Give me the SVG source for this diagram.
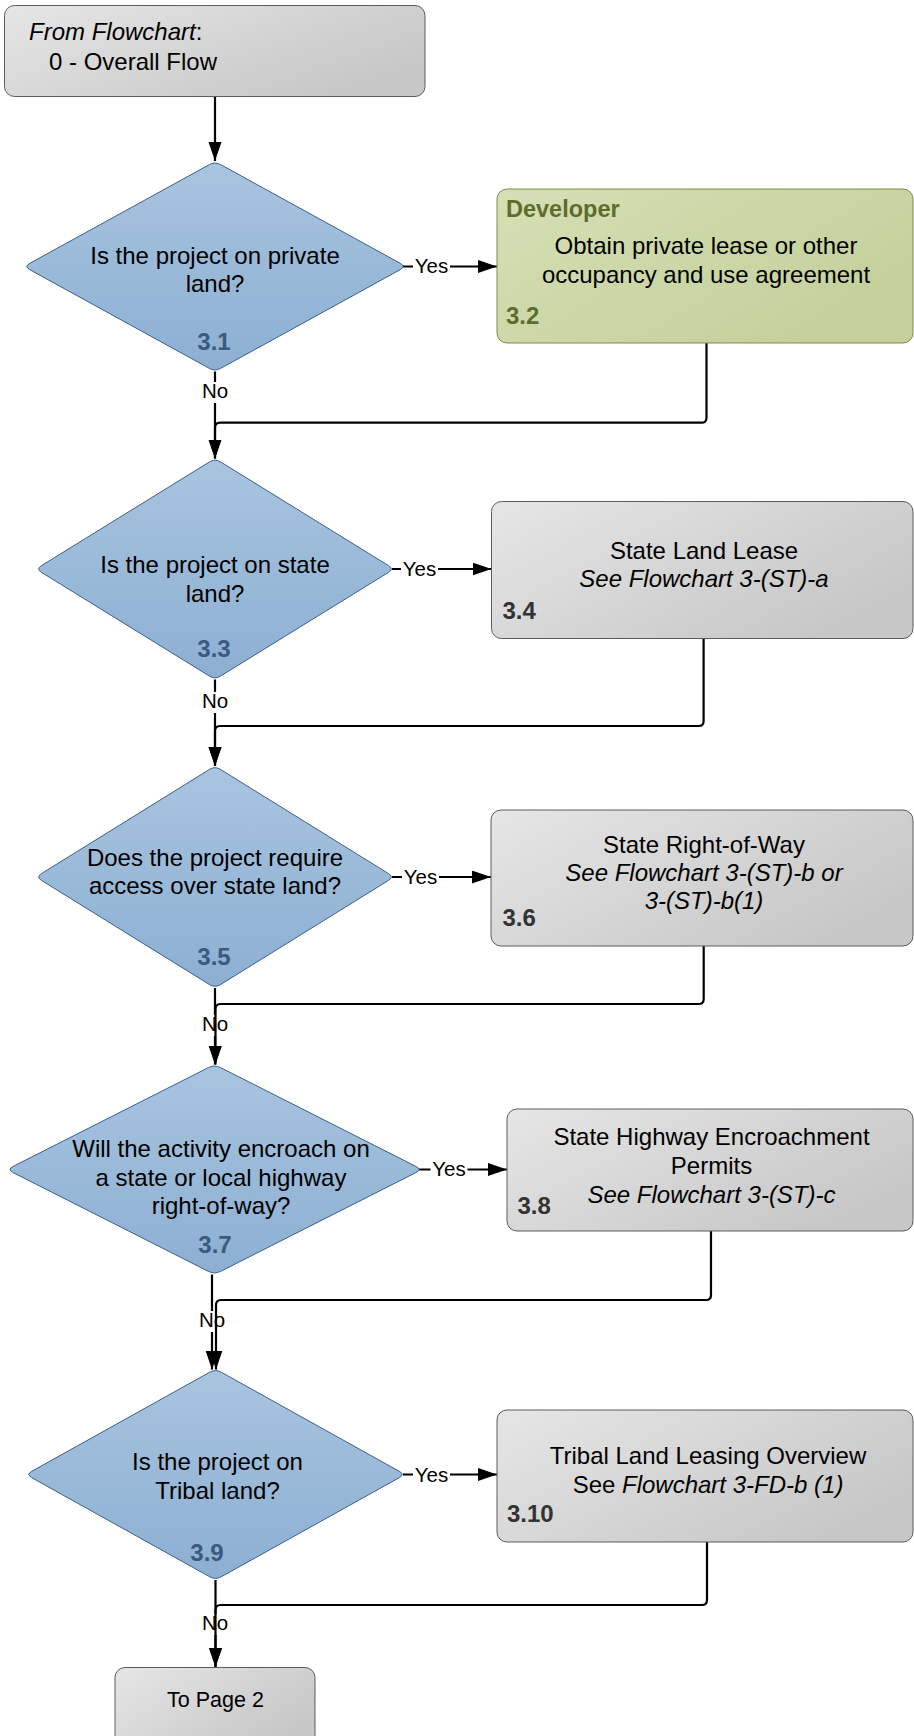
<svg xmlns="http://www.w3.org/2000/svg" width="914" height="1736" viewBox="0 0 914 1736">
<defs>
<linearGradient id="gDia" x1="0" y1="0" x2="0" y2="1">
<stop offset="0" stop-color="#a8c4df"/>
<stop offset="1" stop-color="#8cafd2"/>
</linearGradient>
<linearGradient id="gGray" x1="0" y1="0" x2="1" y2="0.6">
<stop offset="0" stop-color="#e6e6e6"/>
<stop offset="1" stop-color="#c7c7c7"/>
</linearGradient>
<linearGradient id="gGreen" x1="0" y1="0" x2="1" y2="0.6">
<stop offset="0" stop-color="#d5dfb5"/>
<stop offset="1" stop-color="#c4d09b"/>
</linearGradient>
<marker id="arr" markerUnits="userSpaceOnUse" markerWidth="20" markerHeight="14" refX="19" refY="6.5" orient="auto">
<path d="M0,0 L19,6.5 L0,13 Z" fill="#000"/>
</marker>
<style>
text{font-family:"Liberation Sans",Arial,Helvetica,sans-serif;fill:#000}
.t{font-size:24px}
.c{text-anchor:middle}
.i{font-style:italic}
.dn{font-size:24px;font-weight:bold;fill:#3a5a7f;text-anchor:middle}
.bn{font-size:24px;font-weight:bold;fill:#333}
.lbl{font-size:20.5px;text-anchor:middle}
.dia{fill:url(#gDia);stroke:#3c5f88;stroke-width:1}
.gbox{fill:url(#gGray);stroke:#5c5c5c;stroke-width:1}
.grn{fill:url(#gGreen);stroke:#7d8c48;stroke-width:1}
.con{fill:none;stroke:#000;stroke-width:2.2}
.bg{fill:#fff}
</style>
</defs>

<g id="connectors">
<path class="con" d="M215,96.5 V161" marker-end="url(#arr)"/>
<path class="con" d="M403,266.5 H497" marker-end="url(#arr)"/>
<path class="con" d="M215,371.5 V458.5" marker-end="url(#arr)"/>
<path class="con" d="M392,569 H491.5" marker-end="url(#arr)"/>
<path class="con" d="M215,679.5 V766" marker-end="url(#arr)"/>
<path class="con" d="M392,877 H491" marker-end="url(#arr)"/>
<path class="con" d="M419,1169.5 H507" marker-end="url(#arr)"/>
<path class="con" d="M215,988 V1064.5" marker-end="url(#arr)"/>
<path class="con" d="M212,1274.5 V1369.5" marker-end="url(#arr)"/>
<path class="con" d="M403,1474.5 H497" marker-end="url(#arr)"/>
<path class="con" d="M215.5,1580 V1667" marker-end="url(#arr)"/>

<rect class="bg" x="413" y="256" width="37" height="21"/>
<text class="lbl" x="431.5" y="273">Yes</text>
<rect class="bg" x="401" y="558" width="37" height="21"/>
<text class="lbl" x="419.5" y="576">Yes</text>
<rect class="bg" x="402" y="866" width="37" height="21"/>
<text class="lbl" x="420.5" y="884">Yes</text>
<rect class="bg" x="430.5" y="1159" width="37" height="21"/>
<text class="lbl" x="449" y="1176">Yes</text>
<rect class="bg" x="413" y="1464" width="37" height="21"/>
<text class="lbl" x="431.5" y="1482">Yes</text>

<rect class="bg" x="201" y="382" width="28" height="21"/>
<text class="lbl" x="215" y="398">No</text>
<rect class="bg" x="201" y="692" width="28" height="21"/>
<text class="lbl" x="215" y="708">No</text>
<rect class="bg" x="201" y="1015" width="28" height="21"/>
<text class="lbl" x="215" y="1031">No</text>
<rect class="bg" x="198" y="1311" width="28" height="21"/>
<text class="lbl" x="212" y="1327">No</text>
<rect class="bg" x="201" y="1614" width="28" height="21"/>
<text class="lbl" x="215" y="1630">No</text>

<path class="con" d="M706.5,343 V417.7 Q706.5,422.7 701.5,422.7 H220 Q215,422.7 215,427.7 V458.5" marker-end="url(#arr)"/>
<path class="con" d="M703.6,638.5 V721 Q703.6,726 698.6,726 H220 Q215,726 215,731 V766" marker-end="url(#arr)"/>
<path class="con" d="M703.7,946 V999 Q703.7,1004 698.7,1004 H220.5 Q215.5,1004 215.5,1009 V1064.5" marker-end="url(#arr)"/>
<path class="con" d="M711,1231 V1295 Q711,1300 706,1300 H221 Q216,1300 216,1305 V1369.5" marker-end="url(#arr)"/>
<path class="con" d="M707,1542 V1600 Q707,1605 702,1605 H220.5 Q215.5,1605 215.5,1610 V1667" marker-end="url(#arr)"/>
</g>

<g id="start">
<rect class="gbox" x="4.5" y="5.5" width="420.5" height="91" rx="10"/>
<text class="t" x="29" y="40"><tspan class="i">From Flowchart</tspan>:</text>
<text class="t" x="49" y="69.5">0 - Overall Flow</text>
</g>

<g id="n3_1">
<path class="dia" d="M29.73,269.65 Q24,266.5 29.73,263.35 L209.27,164.65 Q215,161.5 220.73,164.65 L400.27,263.35 Q406,266.5 400.27,269.65 L220.73,368.35 Q215,371.5 209.27,368.35 Z"/>
<text class="t c" x="215" y="263.5">Is the project on private</text>
<text class="t c" x="215" y="292">land?</text>
<text class="dn" x="214" y="350">3.1</text>
</g>

<g id="n3_2">
<rect class="grn" x="497" y="189" width="416" height="154" rx="10"/>
<text x="506" y="216.5" style="font-size:23.5px;font-weight:bold;fill:#5e6c2c">Developer</text>
<text class="t c" x="706" y="253.5">Obtain private lease or other</text>
<text class="t c" x="706" y="282.5">occupancy and use agreement</text>
<text x="506" y="323.5" style="font-size:24px;font-weight:bold;fill:#5e6c2c">3.2</text>
</g>

<g id="n3_3">
<path class="dia" d="M41.37,572.3 Q36,569 41.37,565.7 L209.63,461.8 Q215,458.5 220.37,461.8 L388.63,565.7 Q394,569 388.63,572.3 L220.37,676.2 Q215,679.5 209.63,676.2 Z"/>
<text class="t c" x="215" y="572.5">Is the project on state</text>
<text class="t c" x="215" y="601.5">land?</text>
<text class="dn" x="214" y="656.5">3.3</text>
</g>

<g id="n3_4">
<rect class="gbox" x="491.5" y="501.5" width="421.5" height="137" rx="10"/>
<text class="t c" x="704" y="558.5">State Land Lease</text>
<text class="t c i" x="704" y="587">See Flowchart 3-(ST)-a</text>
<text class="bn" x="502.5" y="618.5">3.4</text>
</g>

<g id="n3_5">
<path class="dia" d="M41.37,880.33 Q36,877 41.37,873.67 L209.63,769.33 Q215,766 220.37,769.33 L388.63,873.67 Q394,877 388.63,880.33 L220.37,984.67 Q215,988 209.63,984.67 Z"/>
<text class="t c" x="215" y="865.5">Does the project require</text>
<text class="t c" x="215" y="894">access over state land?</text>
<text class="dn" x="214" y="965">3.5</text>
</g>

<g id="n3_6">
<rect class="gbox" x="491" y="810" width="422" height="136" rx="10"/>
<text class="t c" x="704" y="852.5">State Right-of-Way</text>
<text class="t c i" x="704" y="880.5">See Flowchart 3-(ST)-b or</text>
<text class="t c i" x="704" y="909">3-(ST)-b(1)</text>
<text class="bn" x="502.5" y="926">3.6</text>
</g>

<g id="n3_7">
<path class="dia" d="M13.2,1172.65 Q7,1169.5 13.2,1166.35 L208.3,1067.65 Q214.5,1064.5 220.7,1067.65 L415.8,1166.35 Q422,1169.5 415.8,1172.65 L220.7,1271.35 Q214.5,1274.5 208.3,1271.35 Z"/>
<text class="t c" x="221" y="1156.5">Will the activity encroach on</text>
<text class="t c" x="221" y="1185.5">a state or local highway</text>
<text class="t c" x="221" y="1214">right-of-way?</text>
<text class="dn" x="215" y="1253">3.7</text>
</g>

<g id="n3_8">
<rect class="gbox" x="507" y="1109" width="406" height="122" rx="10"/>
<text class="t c" x="711.5" y="1145">State Highway Encroachment</text>
<text class="t c" x="711.5" y="1173.5">Permits</text>
<text class="t c i" x="711.5" y="1202.5">See Flowchart 3-(ST)-c</text>
<text class="bn" x="517.5" y="1214">3.8</text>
</g>

<g id="n3_9">
<path class="dia" d="M31.7,1477.67 Q26,1474.5 31.7,1471.33 L209.8,1372.17 Q215.5,1369 221.2,1372.17 L399.3,1471.33 Q405,1474.5 399.3,1477.67 L221.2,1576.83 Q215.5,1580 209.8,1576.83 Z"/>
<text class="t c" x="217.5" y="1469.5">Is the project on</text>
<text class="t c" x="217.5" y="1498.5">Tribal land?</text>
<text class="dn" x="207" y="1561">3.9</text>
</g>

<g id="n3_10">
<rect class="gbox" x="497" y="1410" width="416" height="132" rx="10"/>
<text class="t c" x="708" y="1463.5">Tribal Land Leasing Overview</text>
<text class="t c" x="708" y="1492.5">See <tspan class="i">Flowchart 3-FD-b (1)</tspan></text>
<text class="bn" x="507" y="1522">3.10</text>
</g>

<g id="page2">
<rect class="gbox" x="115" y="1667.5" width="200" height="78" rx="10"/>
<text class="c" x="215.5" y="1707" style="font-size:21.5px">To Page 2</text>
</g>
</svg>
